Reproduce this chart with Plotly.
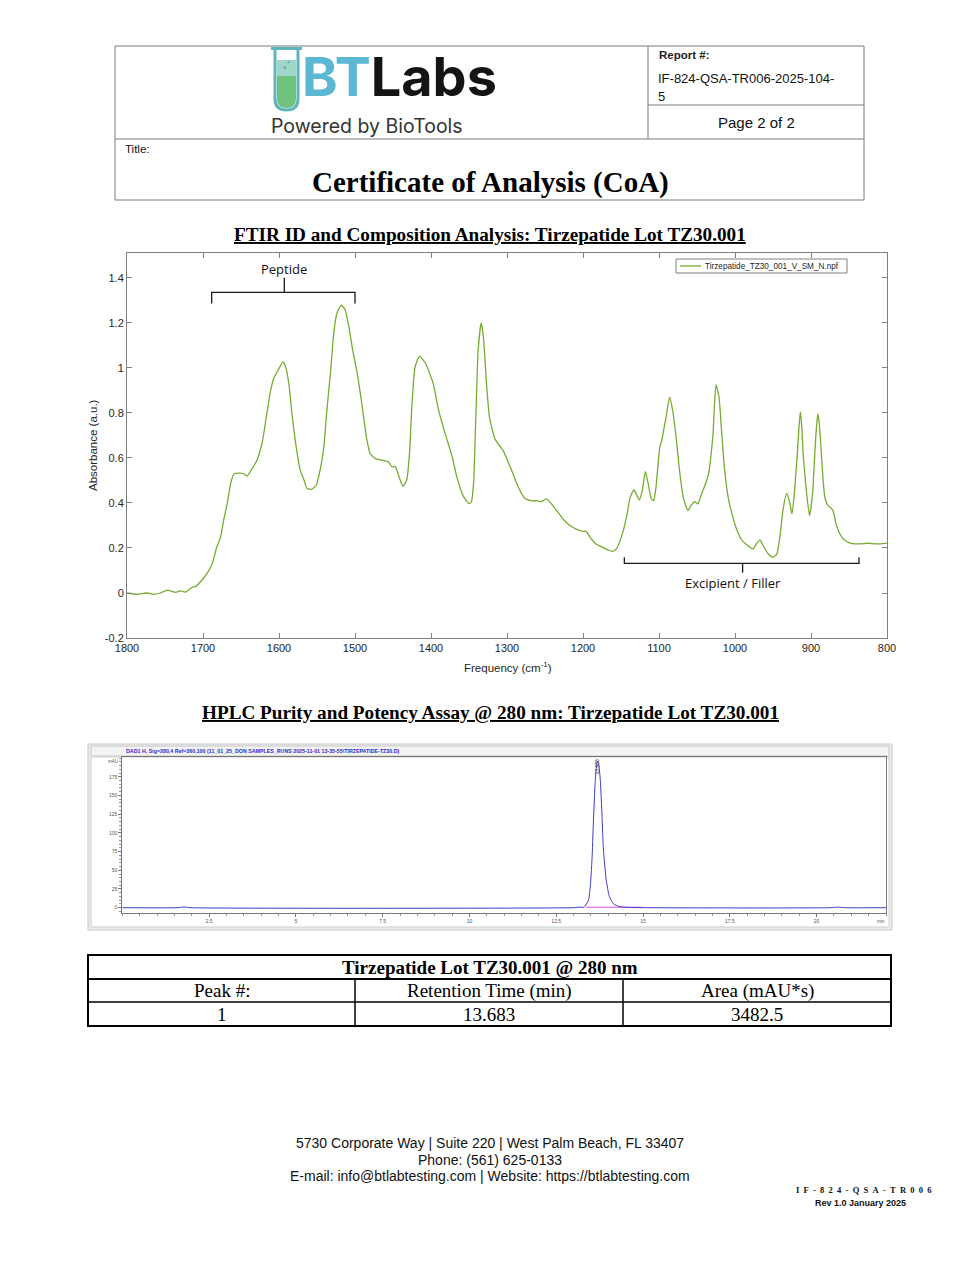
import plotly.graph_objects as go

# --- page geometry (pixels of the 980x1268 sheet) ---
W, H = 980, 1268
# the browser page adds its own 8px body margin, so every paper position is pulled back by it
OFF = 8


def px(x):
    return (x - OFF) / W


def py(y):
    return 1 - (y - OFF) / H


def pt(x, y):
    return f"{px(x):.5f},{py(y):.5f}"


# --- FTIR spectrum ---
ftir_sample = "Tirzepatide_TZ30_001_V_SM_N.npf"
ftir_wavenumber = [
    1800, 1787, 1774, 1765, 1756, 1747, 1736, 1730, 1723, 1714, 1710, 1701, 1695, 1688,
    1682, 1677, 1673, 1668, 1664, 1659, 1653, 1647, 1642, 1636, 1629, 1622, 1616, 1611,
    1607, 1600, 1595, 1592, 1587, 1583, 1578, 1572, 1567, 1563, 1557, 1551, 1546, 1541,
    1537, 1532, 1528, 1524, 1518, 1513, 1508, 1503, 1497, 1491, 1485, 1480, 1473, 1464,
    1456, 1451, 1447, 1442, 1437, 1432, 1428, 1425, 1421, 1415, 1407, 1397, 1390, 1380,
    1372, 1366, 1358, 1350, 1347, 1344, 1341, 1338, 1334, 1331, 1327, 1323, 1316, 1310,
    1305, 1301, 1292, 1286, 1277, 1268, 1261, 1255, 1248, 1242, 1233, 1224, 1218, 1209,
    1200, 1196, 1189, 1183, 1176, 1167, 1161, 1156, 1152, 1147, 1142, 1138, 1133, 1130,
    1126, 1122, 1118, 1115, 1110, 1107, 1104, 1099, 1096, 1090, 1086, 1082, 1077, 1073,
    1068, 1062, 1058, 1053, 1049, 1044, 1038, 1034, 1031, 1029, 1027, 1025, 1021, 1018,
    1014, 1009, 1005, 998, 992, 985, 976, 972, 967, 963, 956, 950, 945, 941,
    937, 932, 928, 925, 922, 918, 916, 914, 912, 910, 906, 902, 898, 895,
    893, 891, 889, 886, 884, 882, 878, 873, 871, 867, 862, 856, 847, 836,
    825, 814, 800,
]
ftir_absorbance = [
    0.000, -0.006, 0.000, -0.006, 0.000, 0.013, 0.003, 0.009, 0.004, 0.026, 0.028, 0.059, 0.085, 0.129,
    0.203, 0.247, 0.320, 0.400, 0.482, 0.531, 0.533, 0.531, 0.520, 0.549, 0.590, 0.671, 0.797, 0.900,
    0.953, 0.997, 1.027, 1.012, 0.930, 0.797, 0.664, 0.545, 0.501, 0.464, 0.461, 0.479, 0.545, 0.649,
    0.812, 0.990, 1.153, 1.241, 1.279, 1.259, 1.182, 1.079, 0.975, 0.841, 0.693, 0.619, 0.597, 0.590,
    0.582, 0.560, 0.563, 0.516, 0.474, 0.501, 0.634, 0.841, 1.004, 1.052, 1.019, 0.930, 0.812, 0.693,
    0.604, 0.516, 0.434, 0.397, 0.404, 0.486, 0.782, 1.078, 1.200, 1.137, 0.930, 0.781, 0.685, 0.655,
    0.633, 0.603, 0.529, 0.477, 0.422, 0.410, 0.410, 0.406, 0.418, 0.398, 0.359, 0.321, 0.302, 0.284,
    0.274, 0.274, 0.240, 0.218, 0.206, 0.191, 0.185, 0.196, 0.225, 0.277, 0.351, 0.425, 0.459, 0.440,
    0.413, 0.455, 0.539, 0.499, 0.418, 0.410, 0.470, 0.647, 0.685, 0.796, 0.870, 0.811, 0.677, 0.544,
    0.425, 0.366, 0.388, 0.406, 0.396, 0.440, 0.492, 0.544, 0.632, 0.700, 0.840, 0.925, 0.870, 0.737,
    0.559, 0.425, 0.366, 0.284, 0.240, 0.215, 0.196, 0.218, 0.236, 0.210, 0.173, 0.159, 0.173, 0.247,
    0.366, 0.443, 0.403, 0.351, 0.440, 0.618, 0.730, 0.805, 0.730, 0.600, 0.450, 0.344, 0.440, 0.620,
    0.730, 0.797, 0.750, 0.600, 0.500, 0.430, 0.390, 0.375, 0.366, 0.307, 0.262, 0.236, 0.221, 0.218,
    0.221, 0.218, 0.222,
]
ftir_xticks = [1800, 1700, 1600, 1500, 1400, 1300, 1200, 1100, 1000, 900, 800]
ftir_yticks = [-0.2, 0, 0.2, 0.4, 0.6, 0.8, 1.0, 1.2, 1.4]
ftir_yticktext = ["-0.2", "0", "0.2", "0.4", "0.6", "0.8", "1", "1.2", "1.4"]

# --- HPLC chromatogram (280 nm) ---
hplc_time = [0.0, 1.6, 1.78, 1.95, 13.0, 13.19, 13.30, 13.43, 13.48, 13.53, 13.57, 13.62, 13.66,
             13.683, 13.72, 13.77, 13.82, 13.86, 13.94, 14.03, 14.15, 14.34, 14.60, 20.4, 20.6,
             20.8, 22.0]
hplc_signal = [0.0, 0.0, 1.0, 0.0, 0.0, 0.8, 0.5, 10.0, 28.0, 64.0, 113.0, 166.0, 190.0,
               196.0, 193.0, 171.0, 122.0, 77.0, 37.0, 15.0, 5.0, 1.3, 0.3, 0.0, 0.8,
               0.0, 0.0]
hplc_baseline_time = [13.36, 14.99]
hplc_baseline_signal = [0.6, 0.6]
hplc_xticks = [2.5, 5, 7.5, 10, 12.5, 15, 17.5, 20]
hplc_xticktext = ["2.5", "5", "7.5", "10", "12.5", "15", "17.5", "20"]
hplc_yticks = [0, 25, 50, 75, 100, 125, 150, 175]
hplc_header = r"DAD1 H, Sig=280,4 Ref=360,100 (11_01_25_DON SAMPLES_RUNS 2025-11-01 13-35-55\TIRZEPATIDE-TZ30.D)"
hplc_peak_label = "13.683"

# --- results table ---
table_title = "Tirzepatide Lot TZ30.001 @ 280 nm"
table_header = ["Peak #:", "Retention Time (min)", "Area (mAU*s)"]
table_row = ["1", "13.683", "3482.5"]

# --- fonts / colours ---
SANS = "Liberation Sans"
SERIF = "Liberation Serif"
GREEN = "#77AC30"
AXIS = "#808080"
TICKTXT = "#262626"
HPLC_BLUE = "#3c3cc8"

fig = go.Figure()

fig.add_trace(go.Scatter(
    x=ftir_wavenumber, y=ftir_absorbance, mode="lines", name=ftir_sample, showlegend=False,
    line=dict(color=GREEN, width=1.3, shape="spline", smoothing=0.5),
    xaxis="x", yaxis="y", hoverinfo="x+y",
))
fig.add_trace(go.Scatter(
    x=hplc_baseline_time, y=hplc_baseline_signal, mode="lines", showlegend=False,
    line=dict(color="#e04ce0", width=1), xaxis="x2", yaxis="y2",
))
fig.add_trace(go.Scatter(
    x=hplc_time, y=hplc_signal, mode="lines", showlegend=False,
    line=dict(color=HPLC_BLUE, width=1, shape="spline", smoothing=0.5),
    xaxis="x2", yaxis="y2",
))

shapes = []
ann = []

# --- header box ---
HDR = dict(color="#7a7a7a", width=1)
shapes += [
    dict(type="rect", xref="paper", yref="paper", x0=px(115), x1=px(864), y0=py(200), y1=py(46), line=HDR),
    dict(type="line", xref="paper", yref="paper", x0=px(115), x1=px(864), y0=py(139), y1=py(139), line=HDR),
    dict(type="line", xref="paper", yref="paper", x0=px(648), x1=px(648), y0=py(139), y1=py(46), line=HDR),
    dict(type="line", xref="paper", yref="paper", x0=px(648), x1=px(864), y0=py(105), y1=py(105), line=HDR),
]

# logo: test tube
tube_fill_low = ("M " + pt(277, 76) + " L " + pt(277, 99) + " Q " + pt(277, 108) + " " + pt(286.5, 108)
                 + " Q " + pt(296, 108) + " " + pt(296, 99) + " L " + pt(296, 76) + " Z")
tube_fill_top = "M " + pt(277, 60) + " L " + pt(277, 76) + " L " + pt(296, 76) + " L " + pt(296, 60) + " Z"
tube_outline = ("M " + pt(275, 50) + " L " + pt(275, 99) + " Q " + pt(275, 110) + " " + pt(286.5, 110)
                + " Q " + pt(298, 110) + " " + pt(298, 99) + " L " + pt(298, 50))
shapes += [
    dict(type="path", xref="paper", yref="paper", path=tube_fill_top, fillcolor="#9fd6c8", line=dict(width=0)),
    dict(type="path", xref="paper", yref="paper", path=tube_fill_low, fillcolor="#6fc27e", line=dict(width=0)),
    dict(type="path", xref="paper", yref="paper", path=tube_outline, line=dict(color="#5db6bf", width=3)),
    dict(type="line", xref="paper", yref="paper", x0=px(271), x1=px(302), y0=py(48.5), y1=py(48.5),
         line=dict(color="#5db6bf", width=3)),
    dict(type="circle", xref="paper", yref="paper", x0=px(283.5), x1=px(286.5), y0=py(69), y1=py(66),
         fillcolor="#5db6bf", line=dict(width=0)),
    dict(type="circle", xref="paper", yref="paper", x0=px(287.5), x1=px(290), y0=py(63.5), y1=py(61),
         fillcolor="#5db6bf", line=dict(width=0)),
]
ann += [
    dict(x=px(300), y=py(76), xanchor="left", yanchor="middle",
         text="<span style='color:#5cb8d2'>BT</span>Labs",
         font=dict(family="Inter", size=54, color="#141414", weight=700)),
    dict(x=px(367), y=py(126), xanchor="center", yanchor="middle", text="Powered by BioTools",
         font=dict(family="Inter", size=19.5, color="#333333")),
    dict(x=px(657), y=py(55), xanchor="left", yanchor="middle", text="<b>Report #:</b>",
         font=dict(family=SANS, size=11.5, color="#222")),
    dict(x=px(656), y=py(79), xanchor="left", yanchor="middle", text="IF-824-QSA-TR006-2025-104-",
         font=dict(family=SANS, size=13, color="#111")),
    dict(x=px(656), y=py(96), xanchor="left", yanchor="middle", text="5",
         font=dict(family=SANS, size=13, color="#111")),
    dict(x=px(756), y=py(123), xanchor="center", yanchor="middle", text="Page 2 of 2",
         font=dict(family=SANS, size=15, color="#111")),
    dict(x=px(123), y=py(149), xanchor="left", yanchor="middle", text="Title:",
         font=dict(family=SANS, size=11.5, color="#111")),
    dict(x=px(490), y=py(182), xanchor="center", yanchor="middle", text="<b>Certificate of Analysis (CoA)</b>",
         font=dict(family=SERIF, size=29, color="#000")),
]

# --- section titles ---
ann += [
    dict(x=px(490), y=py(234), xanchor="center", yanchor="middle",
         text="<b><u>FTIR ID and Composition Analysis: Tirzepatide Lot TZ30.001</u></b>",
         font=dict(family=SERIF, size=19.2, color="#000")),
    dict(x=px(490), y=py(712), xanchor="center", yanchor="middle",
         text="<b><u>HPLC Purity and Potency Assay @ 280 nm: Tirzepatide Lot TZ30.001</u></b>",
         font=dict(family=SERIF, size=19.2, color="#000")),
]

# --- FTIR legend box (drawn by hand, the native one is too tall at this size) ---
shapes += [
    dict(type="rect", xref="paper", yref="paper", x0=px(676), x1=px(847), y0=py(273), y1=py(259),
         fillcolor="white", line=dict(color=AXIS, width=1)),
    dict(type="line", xref="paper", yref="paper", x0=px(680), x1=px(701), y0=py(266), y1=py(266),
         line=dict(color=GREEN, width=1.3)),
]
ann.append(dict(x=px(703), y=py(266), xanchor="left", yanchor="middle", text=ftir_sample,
                font=dict(family=SANS, size=8.2, color=TICKTXT)))

# --- FTIR annotations (brackets in data units) ---
BRK = dict(color="#1a1a1a", width=1.3)
shapes += [
    dict(type="path", xref="x", yref="y", line=BRK,
         path="M 1688.6,1.287 L 1688.6,1.336 L 1500,1.336 L 1500,1.287 M 1593,1.336 L 1593,1.401"),
    dict(type="path", xref="x", yref="y", line=BRK,
         path="M 1145.6,0.159 L 1145.6,0.132 L 836.8,0.132 L 836.8,0.159 M 990,0.132 L 990,0.09"),
]
ann += [
    dict(x=1593, y=1.44, xref="x", yref="y", text="Peptide", showarrow=False,
         font=dict(family="Open Sans", size=13, color="#111")),
    dict(x=1003, y=0.043, xref="x", yref="y", text="Excipient / Filler", showarrow=False,
         font=dict(family="Open Sans", size=13, color="#111")),
    dict(x=px(93), y=py(445), xanchor="center", yanchor="middle", textangle=-90,
         text="Absorbance (a.u.)", font=dict(family=SANS, size=11.5, color=TICKTXT)),
    dict(x=px(508), y=py(667), xanchor="center", yanchor="middle",
         text="Frequency (cm<sup>-1</sup>)", font=dict(family=SANS, size=11.5, color=TICKTXT)),
]

# --- HPLC panel frame ---
shapes += [
    dict(type="rect", xref="paper", yref="paper", layer="below", x0=px(88), x1=px(892), y0=py(930), y1=py(744),
         fillcolor="#ededed", line=dict(color="#c8c8c8", width=1)),
    dict(type="rect", xref="paper", yref="paper", layer="below", x0=px(91), x1=px(889), y0=py(927), y1=py(757),
         fillcolor="#ffffff", line=dict(color="#cfcfcf", width=1)),
    dict(type="rect", xref="paper", yref="paper", layer="below", x0=px(91), x1=px(889), y0=py(756), y1=py(746),
         fillcolor="#f3f3f3", line=dict(color="#c8c8c8", width=1)),
]
ann += [
    dict(x=px(124), y=py(751), xanchor="left", yanchor="middle", text="<b>" + hplc_header + "</b>",
         font=dict(family=SANS, size=5.3, color="#2b2bd0")),
    dict(x=hplc_time[hplc_signal.index(max(hplc_signal))], y=189, xref="x2", yref="y2", showarrow=False,
         textangle=-90, text=hplc_peak_label, font=dict(family=SANS, size=5, color="#333")),
    dict(x=px(113), y=py(761), xanchor="center", yanchor="middle", text="mAU",
         font=dict(family=SANS, size=4.5, color="#555")),
    dict(x=px(881), y=py(921), xanchor="center", yanchor="middle", text="min",
         font=dict(family=SANS, size=4.5, color="#555")),
]

# --- results table ---
TBL = dict(color="#000", width=2)
shapes += [
    dict(type="rect", xref="paper", yref="paper", x0=px(88), x1=px(891), y0=py(1026), y1=py(955), line=TBL),
    dict(type="line", xref="paper", yref="paper", x0=px(88), x1=px(891), y0=py(979), y1=py(979), line=TBL),
    dict(type="line", xref="paper", yref="paper", x0=px(88), x1=px(891), y0=py(1002), y1=py(1002),
         line=dict(color="#000", width=1.5)),
    dict(type="line", xref="paper", yref="paper", x0=px(355), x1=px(355), y0=py(1026), y1=py(979),
         line=dict(color="#000", width=1.5)),
    dict(type="line", xref="paper", yref="paper", x0=px(623), x1=px(623), y0=py(1026), y1=py(979),
         line=dict(color="#000", width=1.5)),
]
ann.append(dict(x=px(490), y=py(967), xanchor="center", yanchor="middle", text="<b>" + table_title + "</b>",
                font=dict(family=SERIF, size=19, color="#000")))
for cx, head, val in zip([221.5, 489, 757], table_header, table_row):
    ann.append(dict(x=px(cx), y=py(991), xanchor="center", yanchor="middle", text=head,
                    font=dict(family=SERIF, size=19, color="#000")))
    ann.append(dict(x=px(cx), y=py(1015), xanchor="center", yanchor="middle", text=val,
                    font=dict(family=SERIF, size=19, color="#000")))

# --- footer ---
footer_lines = [
    "5730 Corporate Way | Suite 220 | West Palm Beach, FL 33407",
    "Phone: (561) 625-0133",
    "E-mail: info@btlabtesting.com | Website: https://btlabtesting.com",
]
for yy, line in zip([1143, 1160, 1176], footer_lines):
    ann.append(dict(x=px(490), y=py(yy), xanchor="center", yanchor="middle", text=line,
                    font=dict(family=SANS, size=14, color="#111")))
form_code = "\u00a0\u00a0".join("IF-824-QSA-TR006")
ann += [
    dict(x=px(863.5), y=py(1190), xanchor="center", yanchor="middle",
         text="<b>" + form_code + "</b>", font=dict(family=SERIF, size=8.5, color="#111")),
    dict(x=px(860), y=py(1203), xanchor="center", yanchor="middle",
         text="<b>Rev 1.0 January 2025</b>", font=dict(family=SANS, size=9, color="#111")),
]

for a in ann:
    a.setdefault("xref", "paper")
    a.setdefault("yref", "paper")
    a.setdefault("showarrow", False)

fig.update_layout(
    width=W, height=H,
    margin=dict(l=0, r=0, t=0, b=0, autoexpand=False),
    paper_bgcolor="white",
    plot_bgcolor="rgba(0,0,0,0)",
    shapes=shapes,
    annotations=ann,
    showlegend=False,
    xaxis=dict(domain=[px(127), px(887)], range=[1800, 800], anchor="y", automargin=False,
               tickvals=ftir_xticks, ticks="inside", ticklen=5, tickcolor=AXIS,
               showline=True, linecolor=AXIS, linewidth=1, mirror="ticks",
               showgrid=False, zeroline=False,
               tickfont=dict(family=SANS, size=11, color=TICKTXT)),
    yaxis=dict(domain=[py(638), py(253)], range=[-0.2, 1.511], anchor="x", automargin=False,
               tickvals=ftir_yticks, ticktext=ftir_yticktext, ticks="inside", ticklen=5, tickcolor=AXIS,
               showline=True, linecolor=AXIS, linewidth=1, mirror="ticks",
               showgrid=False, zeroline=False,
               tickfont=dict(family=SANS, size=11, color=TICKTXT)),
    xaxis2=dict(domain=[px(122.3), px(886)], range=[0, 22], anchor="y2", automargin=False,
                tickvals=hplc_xticks, ticktext=hplc_xticktext, ticks="outside", ticklen=3,
                tickcolor="#777", minor=dict(ticks="outside", ticklen=2, dtick=0.5, tick0=0, tickcolor="#999"),
                showline=True, linecolor="#777", linewidth=1, mirror=True,
                showgrid=False, zeroline=False,
                tickfont=dict(family=SANS, size=5, color="#555")),
    yaxis2=dict(domain=[py(913.3), py(757.3)], range=[-7.5, 201], anchor="x2", automargin=False,
                tickvals=hplc_yticks, ticks="outside", ticklen=3,
                tickcolor="#777", minor=dict(ticks="outside", ticklen=2, dtick=5, tick0=0, tickcolor="#999"),
                showline=True, linecolor="#777", linewidth=1, mirror=True,
                showgrid=False, zeroline=False,
                tickfont=dict(family=SANS, size=5, color="#555")),
)

fig.write_html("out.html")
